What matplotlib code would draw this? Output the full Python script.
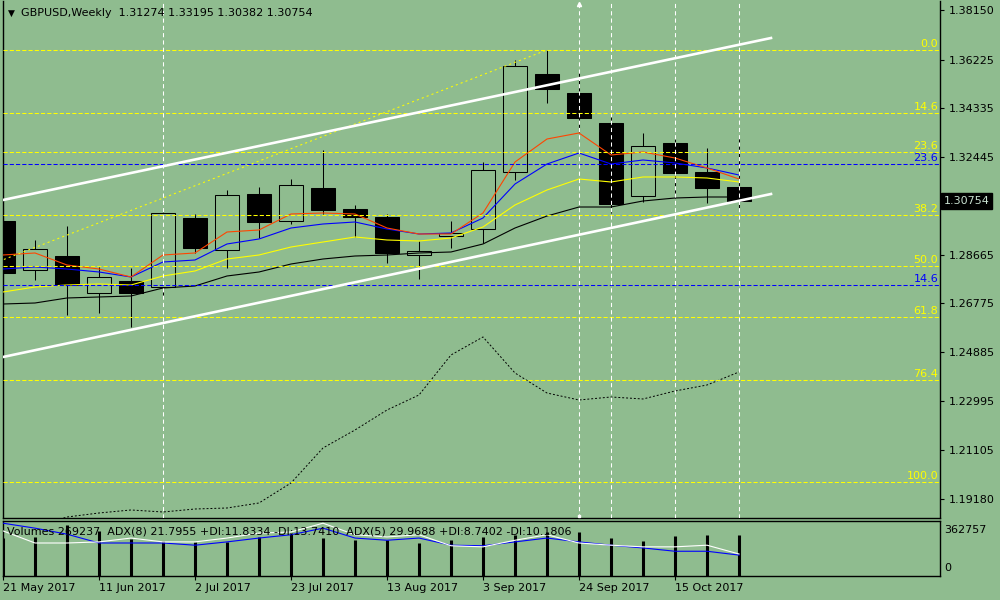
import matplotlib
matplotlib.use('Agg')
import matplotlib.pyplot as plt
from matplotlib.patches import Rectangle
from matplotlib.transforms import blended_transform_factory

plt.rcParams['font.family'] = ['DejaVu Sans']
plt.rcParams['font.size'] = 8

BG = '#8FBC8F'

# weekly bars
weeks = ['21 May 2017', '28 May 2017', '4 Jun 2017', '11 Jun 2017', '18 Jun 2017', '25 Jun 2017',
         '2 Jul 2017', '9 Jul 2017', '16 Jul 2017', '23 Jul 2017', '30 Jul 2017', '6 Aug 2017',
         '13 Aug 2017', '20 Aug 2017', '27 Aug 2017', '3 Sep 2017', '10 Sep 2017', '17 Sep 2017',
         '24 Sep 2017', '1 Oct 2017', '8 Oct 2017', '15 Oct 2017', '22 Oct 2017', '29 Oct 2017']
opens = [1.29969, 1.28057, 1.28611, 1.27165, 1.27642, 1.27409, 1.30073, 1.28832, 1.31015, 1.29957,
         1.31237, 1.30422, 1.30135, 1.28639, 1.29387, 1.29647, 1.31857, 1.35668, 1.34920, 1.33757,
         1.30950, 1.32981, 1.31869, 1.31274]
highs = [1.30434, 1.29232, 1.29775, 1.28173, 1.28134, 1.30329, 1.30240, 1.31171, 1.31298, 1.31597,
         1.32722, 1.30589, 1.30240, 1.29200, 1.29969, 1.32256, 1.36211, 1.36599, 1.35734, 1.34040,
         1.33392, 1.33148, 1.32787, 1.33195]
lows = [1.27758, 1.27681, 1.26324, 1.26389, 1.25870, 1.27033, 1.28716, 1.28134, 1.29298, 1.29852,
        1.30240, 1.29360, 1.28328, 1.27700, 1.28910, 1.29104, 1.31558, 1.34532, 1.33431, 1.30267,
        1.30717, 1.30849, 1.30678, 1.30382]
closes = [1.27952, 1.28871, 1.27475, 1.27785, 1.27165, 1.30267, 1.28910, 1.30965, 1.29941, 1.31364,
          1.30395, 1.30112, 1.28716, 1.28805, 1.29515, 1.31946, 1.35979, 1.35087, 1.33974, 1.30628,
          1.32865, 1.31841, 1.31260, 1.30754]

# moving averages
ma_red = [1.28650, 1.28728, 1.28262, 1.28107, 1.27797, 1.28650, 1.28728, 1.29542, 1.29620, 1.30240,
          1.30279, 1.30240, 1.29697, 1.29464, 1.29464, 1.30279, 1.32256, 1.33148, 1.33381, 1.32528,
          1.32644, 1.32411, 1.32024, 1.31597]
ma_blue = [1.28107, 1.28185, 1.28107, 1.27991, 1.27797, 1.28379, 1.28456, 1.29077, 1.29271, 1.29697,
           1.29852, 1.29930, 1.29658, 1.29464, 1.29503, 1.30085, 1.31403, 1.32179, 1.32605, 1.32179,
           1.32334, 1.32218, 1.32024, 1.31752]
ma_yellow = [1.27216, 1.27409, 1.27487, 1.27526, 1.27487, 1.27836, 1.28030, 1.28495, 1.28650, 1.28960,
             1.29154, 1.29348, 1.29232, 1.29193, 1.29309, 1.29736, 1.30589, 1.31171, 1.31597, 1.31481,
             1.31675, 1.31675, 1.31636, 1.31481]
ma_black = [1.26750, 1.26789, 1.26983, 1.27022, 1.27060, 1.27371, 1.27448, 1.27836, 1.27991, 1.28301,
            1.28495, 1.28611, 1.28650, 1.28728, 1.28767, 1.29077, 1.29697, 1.30162, 1.30511, 1.30511,
            1.30744, 1.30860, 1.30899, 1.30899]
dotted_line = [1.17900, 1.18100, 1.18491, 1.18646, 1.18763, 1.18685, 1.18801, 1.18840, 1.19034, 1.19810,
               1.21167, 1.21865, 1.22640, 1.23222, 1.24773, 1.25471, 1.24075, 1.23299, 1.23028, 1.23144,
               1.23067, 1.23377, 1.23609, 1.24114]

# volume window
volumes = [250000, 257000, 336000, 297000, 244000, 233000, 226000, 226000, 259000, 284000, 251000, 237000,
           237000, 218000, 237000, 257000, 270000, 292000, 292000, 251000, 231000, 264000, 270000, 269237]
vol_max = 362757
adx8_line = [96, 87, 76, 60, 60, 60, 56, 62, 69, 75, 87, 69, 65, 69, 56, 55, 62, 69, 62, 56, 51, 45, 45, 38]
adx5_line = [82, 60, 60, 62, 69, 62, 62, 69, 78, 80, 96, 75, 71, 75, 55, 53, 65, 75, 60, 56, 53, 53, 56, 40]

# objects
fib_levels = [0.0, 14.6, 23.6, 38.2, 50.0, 61.8, 76.4, 100.0]
fib_high, fib_low = 1.36600, 1.19850
fib_high_bar, fib_low_bar = 17, -18
fib2_levels = ['23.6', '14.6']
fib2_prices = [1.32179, 1.27487]
channel_x = [0, 24]
channel_upper = [1.30783, 1.37064]
channel_lower = [1.24695, 1.31015]
vline_bars = [5, 18, 19, 21, 23]

price_ticks = [1.38150, 1.36225, 1.34335, 1.32445, 1.30555, 1.28665,
               1.26775, 1.24885, 1.22995, 1.21105, 1.19180]

fig = plt.figure(figsize=(10, 6), dpi=100, facecolor=BG)
ax = fig.add_axes([0.003, 1 - 518 / 600, 0.937, 517 / 600], facecolor=BG)
axv = fig.add_axes([0.003, 0.04, 0.937, 55 / 600], facecolor=BG)
axa = fig.add_axes([0.003, 0.04, 0.937, 55 / 600], facecolor='none')

n = len(closes)
idx = list(range(n))
xmax = 937 / 32

# candles
for i in idx:
    o, h, l, c = opens[i], highs[i], lows[i], closes[i]
    ax.vlines(i, l, h, color='black', lw=0.75, zorder=2)
    fill = 'black' if c < o else BG
    ax.add_patch(Rectangle((i - 0.36, min(o, c)), 0.72, max(abs(c - o), 0.0001),
                           facecolor=fill, edgecolor='black', lw=0.75, zorder=3))

ax.plot(idx, ma_black, color='black', lw=0.8, zorder=4)
ax.plot(idx, ma_yellow, color='#FFFF00', lw=0.8, zorder=4)
ax.plot(idx, ma_blue, color='#0000FF', lw=0.8, zorder=4)
ax.plot(idx, ma_red, color='#FF4500', lw=0.8, zorder=4)
ax.plot(idx, dotted_line, color='black', lw=0.7, ls=(0, (2, 2)), zorder=4)

# fibonacci
trans = blended_transform_factory(ax.transAxes, ax.transData)
ax.plot([fib_low_bar, fib_high_bar], [fib_low, fib_high], color='#FFFF00', lw=0.75,
        ls=(0, (2, 3)), zorder=5)
for lv in fib_levels:
    p = fib_high - lv / 100 * (fib_high - fib_low)
    ax.axhline(p, color='#FFFF00', lw=0.75, ls=(0, (4, 2)), zorder=5)
    ax.text(0.998, p + 0.0004, f'{lv:.1f}', transform=trans, ha='right', va='bottom',
            color='#FFFF00', fontsize=8, zorder=7)
for lab, p in zip(fib2_levels, fib2_prices):
    ax.axhline(p, color='#0000FF', lw=0.75, ls=(0, (4, 2)), zorder=5)
    ax.text(0.998, p + 0.0004, lab, transform=trans, ha='right', va='bottom',
            color='#0000FF', fontsize=8, zorder=7)

# channel
ax.plot(channel_x, channel_upper, color='white', lw=1.9, zorder=6)
ax.plot(channel_x, channel_lower, color='white', lw=1.9, zorder=6)

for b in vline_bars:
    ax.axvline(b, color='white', lw=0.75, ls=(0, (4, 3)), zorder=5)

ylo, yhi = 1.18452, 1.38499
ax.plot([18], [yhi - 0.0012], marker='^', ms=3, color='white', zorder=7, clip_on=False)
ax.plot([18], [ylo + 0.0006], marker='s', ms=2, color='white', zorder=7, clip_on=False)

ax.set_xlim(0, xmax)
ax.set_ylim(ylo, yhi)
ax.yaxis.tick_right()
ax.set_yticks(price_ticks)
# 1.30555 sits under the current price box
ax.set_yticklabels(['' if abs(p - closes[-1]) < 0.003 else f'{p:.5f}' for p in price_ticks])
ax.tick_params(axis='y', direction='out', length=3, width=0.8, pad=3, labelsize=8)
ax.set_xticks([])
ax.spines['top'].set_visible(False)
for s in ['left', 'right', 'bottom']:
    ax.spines[s].set_linewidth(1)

# current price box
ax.text(1.004, closes[-1], f'{closes[-1]:.5f}', transform=trans, ha='left', va='center',
        color='#C8E0D0', fontsize=8, zorder=10,
        bbox=dict(boxstyle='square,pad=0.25', fc='black', ec='black'))

fig.text(0.008, 1 - 13 / 600, '\u25bc', fontsize=6.5, va='center', ha='left')
fig.text(0.021, 1 - 13 / 600, 'GBPUSD,Weekly  1.31274 1.33195 1.30382 1.30754',
         fontsize=8, va='center', ha='left')

# volumes + ADX
axv.vlines(idx, 0, volumes, color='black', lw=2.2)
axv.set_xlim(0, xmax)
axv.set_ylim(0, vol_max)
axv.set_yticks([])
axv.set_xticks(idx[::3])
axv.set_xticklabels(weeks[::3], ha='left')
axv.tick_params(axis='x', direction='out', length=3, width=0.8, pad=2, labelsize=8)
for s in axv.spines.values():
    s.set_linewidth(1)
axv.text(1.0045, (576 - 530) / 55, str(vol_max), transform=axv.transAxes, va='center', ha='left', fontsize=8)
axv.text(1.0045, (576 - 568) / 55, '0', transform=axv.transAxes, va='center', ha='left', fontsize=8)

axa.plot(idx, adx8_line, color='#0000FF', lw=0.8)
axa.plot(idx, adx5_line, color='white', lw=0.8)
axa.set_xlim(0, xmax)
axa.set_ylim(0, 100)
axa.axis('off')
axa.text(0.004, (576 - 531) / 55,
         'Volumes 269237  ADX(8) 21.7955 +DI:11.8334 -DI:13.7410  ADX(5) 29.9688 +DI:8.7402 -DI:10.1806',
         transform=axa.transAxes, va='center', ha='left', fontsize=8)

fig.savefig('out.png', dpi=100, facecolor=BG)
